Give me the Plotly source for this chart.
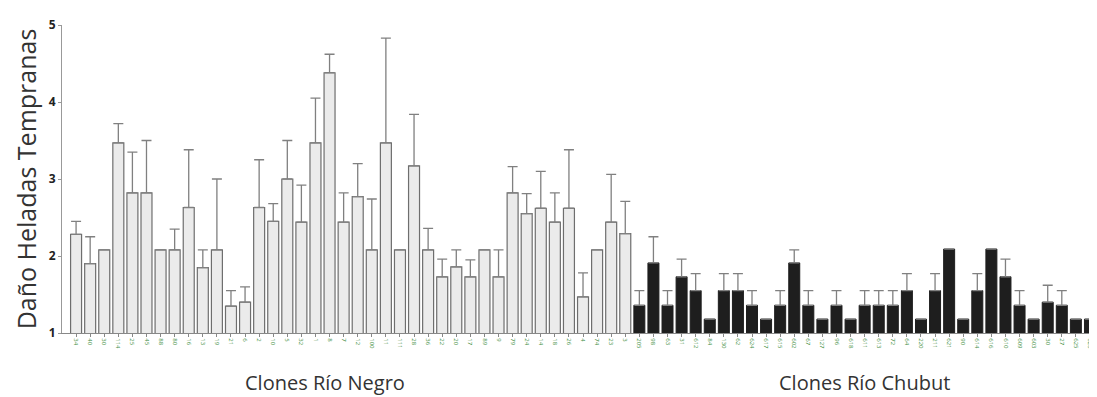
import plotly.graph_objects as go

# Río Negro clones (gray)
negro_labels = ["34","40","30","114","25","45","88","80","16","13","19","21","6","2","10","5","32","1","8","7",
                "12","100","11","111","28","36","22","20","17","89","9","79","24","14","18","26","4","74","23","3"]
negro_vals = [2.28,1.90,2.08,3.47,2.82,2.82,2.08,2.08,2.63,1.85,2.08,1.35,1.40,2.63,2.45,3.00,2.44,3.47,4.38,2.44,
              2.77,2.08,3.47,2.08,3.17,2.08,1.73,1.86,1.73,2.08,1.73,2.82,2.55,2.62,2.44,2.62,1.47,2.08,2.44,2.29]
negro_err = [0.17,0.35,0.0,0.25,0.53,0.68,0.0,0.27,0.75,0.23,0.92,0.20,0.20,0.62,0.23,0.50,0.48,0.58,0.24,0.38,
             0.43,0.66,1.36,0.0,0.67,0.28,0.23,0.22,0.22,0.0,0.35,0.34,0.26,0.48,0.38,0.76,0.31,0.0,0.62,0.42]

# Río Chubut clones (black)
chubut_labels = ["205","98","63","31","612","84","130","62","624","617","615","602","67","127","96","618","611","613","72","64",
                 "220","211","621","90","614","616","610","609","603","30","27","625","626"]
chubut_vals = [1.36,1.91,1.36,1.73,1.55,1.18,1.55,1.55,1.36,1.18,1.36,1.91,1.36,1.18,1.36,1.18,1.36,1.36,1.36,1.55,
               1.18,1.55,2.09,1.18,1.55,2.09,1.73,1.36,1.18,1.40,1.36,1.18,1.18]
chubut_err = [0.19,0.34,0.19,0.23,0.22,0.0,0.22,0.22,0.19,0.0,0.19,0.17,0.19,0.0,0.19,0.0,0.19,0.19,0.19,0.22,
              0.0,0.22,0.0,0.0,0.22,0.0,0.23,0.19,0.0,0.22,0.19,0.0,0.0]

x_negro = list(range(len(negro_vals)))
x_chubut = list(range(len(negro_vals), len(negro_vals) + len(chubut_vals)))

fig = go.Figure()
fig.add_trace(go.Bar(
    x=x_negro, y=negro_vals, width=0.78,
    marker=dict(color="#ebebeb", line=dict(color="#6e6e6e", width=1.2)),
    error_y=dict(type="data", array=negro_err, arrayminus=[0]*len(negro_err), symmetric=False,
                 color="#808080", thickness=1.3, width=5),
    showlegend=False,
))
fig.add_trace(go.Bar(
    x=x_chubut, y=chubut_vals, width=0.78,
    marker=dict(color="#1e1e1e", line=dict(color="#1e1e1e", width=1)),
    error_y=dict(type="data", array=chubut_err, arrayminus=[0]*len(chubut_err), symmetric=False,
                 color="#808080", thickness=1.3, width=5),
    showlegend=False,
))

fig.update_layout(
    width=1089, height=389,
    margin=dict(l=54, r=0, t=17, b=64),
    paper_bgcolor="white", plot_bgcolor="white",
    font=dict(family="Open Sans", color="#333"),
    bargap=0.2,
    xaxis=dict(
        range=[-1.0, 72.5],
        tickmode="array",
        tickvals=x_negro + x_chubut,
        ticktext=negro_labels + chubut_labels,
        tickangle=90,
        tickfont=dict(size=6, color="#3f8f3f"),
        showgrid=False, zeroline=False,
        showline=True, linecolor="#888", linewidth=1,
        ticks="outside", ticklen=3, tickcolor="#888",
        automargin=False,
    ),
    yaxis=dict(
        range=[1, 5],
        tickvals=[1, 2, 3, 4, 5],
        tickfont=dict(size=12, color="#222", weight="bold"),
        showgrid=False, zeroline=False,
        showline=True, linecolor="#999", linewidth=1,
        ticks="outside", ticklen=3, tickcolor="#999",
        automargin=False,
        title=dict(text="Daño Heladas Tempranas", font=dict(size=25, color="#333"), standoff=4),
    ),
    annotations=[
        dict(text="Clones Río Negro", x=17.7, y=-0.162, xref="x", yref="paper",
             showarrow=False, font=dict(size=20, color="#333"), yanchor="middle"),
        dict(text="Clones Río Chubut", x=56.0, y=-0.162, xref="x", yref="paper",
             showarrow=False, font=dict(size=20, color="#333"), yanchor="middle"),
    ],
)

fig.write_html("out.html")
